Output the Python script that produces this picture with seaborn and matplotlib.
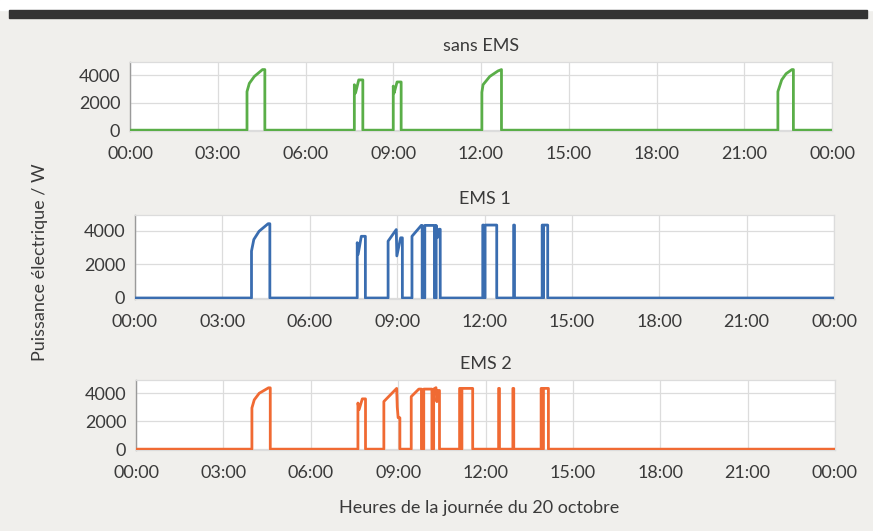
import matplotlib
matplotlib.use("Agg")
import matplotlib.pyplot as plt
import pandas as pd
import seaborn as sns

# ---------------- data (hours of the day, electrical power in W) ----------------
hours_sans = [0, 4.00, 4.00, 4.08, 4.25, 4.53, 4.61, 4.61,
              7.67, 7.67, 7.71, 7.82, 7.96, 7.96,
              9.00, 9.00, 9.03, 9.13, 9.27, 9.27,
              12.03, 12.03, 12.07, 12.30, 12.58, 12.70, 12.70,
              22.15, 22.15, 22.28, 22.43, 22.63, 22.68, 22.68, 24]
power_sans = [0, 0, 2800, 3400, 3900, 4400, 4400, 0,
              0, 3300, 2700, 3650, 3650, 0,
              0, 3200, 2700, 3500, 3500, 0,
              0, 2750, 3300, 3900, 4300, 4400, 0,
              0, 2800, 3650, 4100, 4400, 4400, 0, 0]

hours_ems1 = [0, 4.00, 4.00, 4.08, 4.26, 4.57, 4.63, 4.63,
              7.63, 7.63, 7.66, 7.77, 7.91, 7.91,
              8.69, 8.69, 8.97, 8.99, 9.12, 9.18, 9.18,
              9.51, 9.51, 9.83, 9.86, 9.86, 9.95, 9.95, 10.28, 10.28,
              10.34, 10.34, 10.38, 10.44, 10.48, 10.48,
              11.94, 11.94, 11.97, 11.97, 12.02, 12.02, 12.42, 12.42,
              13.00, 13.00, 13.03, 13.03,
              13.98, 13.98, 14.00, 14.00, 14.03, 14.03, 14.17, 14.17, 24]
power_ems1 = [0, 0, 2800, 3490, 3980, 4430, 4430, 0,
              0, 3300, 2600, 3680, 3680, 0,
              0, 3390, 4080, 2510, 3590, 3590, 0,
              0, 3680, 4330, 4330, 0, 0, 4330, 4330, 0,
              0, 4330, 3600, 4100, 4100, 0,
              0, 4350, 4350, 0, 0, 4350, 4350, 0,
              0, 4350, 4350, 0,
              0, 4350, 4350, 0, 0, 4350, 4350, 0, 0]

hours_ems2 = [0, 3.98, 3.98, 4.06, 4.23, 4.55, 4.61, 4.61,
              7.62, 7.62, 7.66, 7.77, 7.88, 7.88,
              8.51, 8.51, 8.95, 8.97, 9.00, 9.06, 9.06,
              9.45, 9.45, 9.71, 9.80, 9.80, 9.88, 9.88, 10.16, 10.16,
              10.22, 10.22, 10.30, 10.33, 10.37, 10.42, 10.42,
              11.11, 11.11, 11.14, 11.14, 11.19, 11.19, 11.56, 11.56,
              12.45, 12.45, 12.48, 12.48,
              12.94, 12.94, 12.97, 12.97,
              13.91, 13.91, 13.95, 13.95, 13.99, 13.99, 14.16, 14.16, 24]
power_ems2 = [0, 0, 2950, 3530, 4000, 4390, 4390, 0,
              0, 3300, 2830, 3600, 3600, 0,
              0, 3410, 4350, 3020, 2250, 2250, 0,
              0, 3760, 4300, 4300, 0, 0, 4300, 4300, 0,
              0, 4300, 4400, 3400, 4200, 4200, 0,
              0, 4350, 4350, 0, 0, 4350, 4350, 0,
              0, 4350, 4350, 0,
              0, 4350, 4350, 0,
              0, 4350, 4350, 0, 0, 4350, 4350, 0, 0]

titles = ["sans EMS", "EMS 1", "EMS 2"]
tick_hours = [0, 3, 6, 9, 12, 15, 18, 21, 24]
tick_labels = ["00:00", "03:00", "06:00", "09:00", "12:00", "15:00", "18:00", "21:00", "00:00"]
y_ticks = [0, 2000, 4000]
y_label = "Puissance électrique / W"
x_label = "Heures de la journée du 20 octobre"

# ---------------- style ----------------
sns.set_style("white")
plt.rcParams["font.family"] = ["Lato", "DejaVu Sans"]
text_col = "#3a3a3a"
bg = "#f0efec"
FS = 13

fig = plt.figure(figsize=(8.73, 5.31), dpi=100, facecolor=bg)
# white top strip and dark header bar
fig.patches.append(plt.Rectangle((0, 1 - 10 / 531), 1, 10 / 531, transform=fig.transFigure,
                                 color="white", zorder=0))
fig.patches.append(plt.Rectangle((9 / 873, 1 - 18 / 531), 858 / 873, 8 / 531,
                                 transform=fig.transFigure, color="#333333", zorder=1))

W, H = 873, 531
boxes = [(130, 62, 832, 131), (135, 215, 834, 299), (136, 380, 835, 450)]
colors = ["#5aae48", "#3a6db0", "#f06a33"]
series = [(hours_sans, power_sans), (hours_ems1, power_ems1), (hours_ems2, power_ems2)]

for (x0, y0, x1, y1), col, (hh, pp), title in zip(boxes, colors, series, titles):
    ax = fig.add_axes([x0 / W, 1 - y1 / H, (x1 - x0) / W, (y1 - y0) / H])
    ax.set_facecolor("white")
    df = pd.DataFrame({"heure": hh, "puissance": pp})
    sns.lineplot(data=df, x="heure", y="puissance", ax=ax, color=col, lw=2.0,
                 sort=False, estimator=None, zorder=3)
    ax.set_xlim(0, 24)
    ax.set_ylim(-60, 4950)
    ax.set_xticks(tick_hours)
    ax.set_xticklabels(tick_labels)
    ax.set_yticks(y_ticks)
    ax.set_yticklabels([str(v) for v in y_ticks])
    ax.grid(True, color="#dcdcdc", lw=0.9)
    ax.set_axisbelow(True)
    ax.tick_params(axis="both", length=0, labelsize=FS, labelcolor=text_col)
    ax.tick_params(axis="x", pad=11)
    ax.tick_params(axis="y", pad=7)
    for s in ["top", "right", "bottom"]:
        ax.spines[s].set_color("#dcdcdc")
        ax.spines[s].set_linewidth(0.9)
    ax.spines["left"].set_color("#9a9a9a")
    ax.spines["left"].set_linewidth(1.0)
    ax.set_xlabel("")
    ax.set_ylabel("")
    ax.set_title(title, fontsize=FS, color=text_col, pad=8)

fig.text(40 / W, 1 - 262 / H, y_label, rotation=90, ha="center", va="center",
         fontsize=FS, color=text_col)
fig.text(479 / W, 1 - 508 / H, x_label, ha="center", va="center",
         fontsize=FS, color=text_col)

fig.savefig("out.png", dpi=100, facecolor=bg)
